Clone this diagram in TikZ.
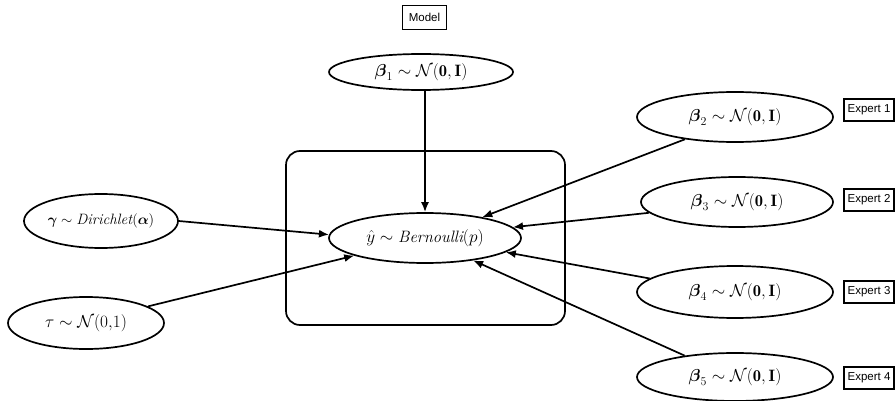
\documentclass[tikz,border=0pt]{standalone}
\usepackage{amsmath}
\usepackage{fontspec}
\usetikzlibrary{shapes.geometric,arrows.meta}
\newfontfamily\labfont{Liberation Sans}
\begin{document}
\begin{tikzpicture}[x=1pt,y=-1pt,
  dist/.style={ellipse,draw,line width=1.7pt,inner xsep=-30pt,inner ysep=-6pt,font=\fontsize{16.5}{19}\selectfont},
  tag/.style={rectangle,draw,line width=1.4pt,inner sep=0pt,font=\labfont\fontsize{11.5}{13}\selectfont},
  conn/.style={line width=1.7pt,-{Latex[length=10pt,width=8pt]}}]
\useasboundingbox (0,0) rectangle (896,401);
\draw[line width=1.7pt,rounded corners=14pt] (286,151) rectangle (565,325);
\node[tag,minimum width=44pt,minimum height=24pt] (model) at (424.5,17.5) {Model};
\node[dist,minimum width=184pt,minimum height=36pt] (b1) at (421,72) {$\boldsymbol{\beta}_1\sim\mathcal{N}(\mathbf{0},\mathbf{I})$};
\node[dist,minimum width=192pt,minimum height=50pt] (y) at (425,238) {$\hat{y}\sim\mathit{Bernoulli}(p)$};
\node[dist,minimum width=154pt,minimum height=54pt,font=\fontsize{15}{18}\selectfont] (g) at (101,221) {$\boldsymbol{\gamma}\sim\mathit{Dirichlet}(\boldsymbol{\alpha})$};
\node[dist,minimum width=156pt,minimum height=52pt] (t) at (86,323) {$\tau\sim\mathcal{N}(0{,}1)$};
\node[dist,minimum width=196pt,minimum height=50pt] (b2) at (735,117) {$\boldsymbol{\beta}_2\sim\mathcal{N}(\mathbf{0},\mathbf{I})$};
\node[dist,minimum width=192pt,minimum height=50pt] (b3) at (737,202) {$\boldsymbol{\beta}_3\sim\mathcal{N}(\mathbf{0},\mathbf{I})$};
\node[dist,minimum width=196pt,minimum height=52pt] (b4) at (735,292) {$\boldsymbol{\beta}_4\sim\mathcal{N}(\mathbf{0},\mathbf{I})$};
\node[dist,minimum width=196pt,minimum height=48pt] (b5) at (735,377) {$\boldsymbol{\beta}_5\sim\mathcal{N}(\mathbf{0},\mathbf{I})$};
\node[tag,minimum width=50pt,minimum height=22pt] (e1) at (869,110) {Expert 1};
\node[tag,minimum width=50pt,minimum height=22pt] (e2) at (869,200) {Expert 2};
\node[tag,minimum width=50pt,minimum height=22pt] (e3) at (869,292) {Expert 3};
\node[tag,minimum width=50pt,minimum height=22pt] (e4) at (869,378) {Expert 4};
\draw[conn] (y.north |- b1.south) -- (y.north);
\draw[conn] (b2.204) -- (y.20);
\draw[conn] (b3.187) -- (y.7);
\draw[conn] (b4.171) -- (y.-10);
\draw[conn] (b5.157) -- (y.-25);
\draw[conn] (g.east) -- (y.178);
\draw[conn] (t.15) -- (y.194);
\end{tikzpicture}
\end{document}
